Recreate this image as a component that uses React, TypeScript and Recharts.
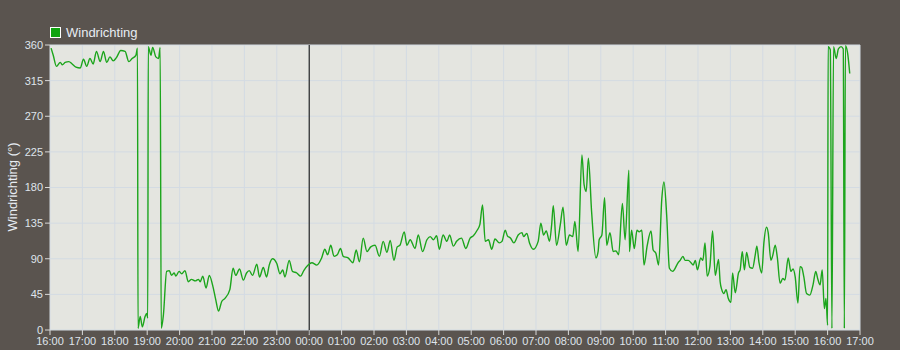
import { LineChart, Line, XAxis, YAxis, CartesianGrid, ReferenceLine } from 'recharts';

// minutes after 16:00 (first day) and wind direction in degrees
const minutes = [
  2, 6, 12, 19, 23, 28, 35, 41, 48, 56, 62, 68, 74, 80, 86, 93, 99, 105, 111, 117,
  123, 131, 139, 146, 152, 159, 162, 163, 167, 171, 176, 179, 181, 182, 187, 190, 196, 201, 204, 206,
  210, 216, 221, 225, 230, 233, 239, 244, 250, 256, 262, 269, 275, 278, 283, 289, 295, 301, 307, 312,
  318, 324, 333, 339, 344, 351, 358, 364, 369, 375, 383, 388, 395, 401, 406, 412, 420, 426, 431, 435,
  443, 449, 457, 464, 470, 478, 485, 494, 503, 509, 514, 520, 526, 532, 538, 543, 552, 561, 567, 573,
  580, 587, 594, 602, 610, 617, 624, 630, 637, 643, 648, 656, 661, 667, 676, 682, 690, 698, 704, 710,
  716, 721, 728, 735, 740, 747, 753, 762, 770, 778, 784, 791, 796, 801, 806, 812, 818, 824, 832, 837,
  843, 847, 853, 859, 867, 874, 877, 883, 888, 895, 904, 909, 914, 919, 925, 929, 932, 938, 945, 950,
  956, 962, 968, 972, 978, 985, 989, 993, 997, 1003, 1011, 1015, 1017, 1022, 1027, 1031, 1037, 1043, 1048, 1053,
  1060, 1065, 1072, 1073, 1077, 1082, 1087, 1091, 1096, 1100, 1106, 1113, 1117, 1122, 1127, 1133, 1137, 1142, 1147, 1153,
  1164, 1167, 1172, 1176, 1182, 1187, 1191, 1195, 1199, 1205, 1209, 1213, 1217, 1222, 1227, 1232, 1238, 1241, 1244, 1248,
  1252, 1256, 1261, 1264, 1269, 1275, 1278, 1282, 1286, 1290, 1296, 1301, 1306, 1309, 1313, 1318, 1322, 1327, 1330, 1335,
  1338, 1343, 1347, 1352, 1357, 1361, 1367, 1372, 1376, 1380, 1385, 1389, 1392, 1396, 1401, 1407, 1413, 1418, 1422, 1426,
  1430, 1434, 1437, 1440, 1441, 1445, 1448, 1451, 1456, 1460, 1465, 1469, 1471, 1473, 1477, 1481,
];

const windDir = [
  356, 347, 333, 338, 335, 338, 339, 336, 332, 331, 342, 333, 343, 336, 352, 339, 352, 338, 345, 340,
  344, 353, 352, 339, 343, 347, 356, 2, 17, 4, 17, 21, 15, 358, 347, 357, 345, 343, 357, 2,
  19, 74, 75, 69, 72, 68, 74, 71, 75, 61, 64, 62, 64, 61, 68, 53, 69, 57, 38, 24,
  36, 40, 51, 78, 69, 77, 63, 72, 75, 69, 83, 67, 79, 67, 82, 90, 84, 71, 76, 67,
  88, 74, 72, 68, 75, 82, 85, 82, 91, 102, 95, 107, 93, 95, 103, 93, 91, 85, 101, 86,
  116, 99, 105, 107, 93, 112, 98, 113, 88, 105, 107, 124, 107, 114, 103, 120, 99, 114, 118, 114,
  119, 102, 120, 112, 120, 106, 112, 116, 103, 116, 119, 126, 133, 158, 112, 114, 102, 115, 110, 112,
  126, 119, 116, 110, 120, 123, 118, 122, 110, 102, 112, 135, 120, 125, 112, 133, 157, 107, 133, 155,
  107, 120, 118, 137, 99, 221, 184, 175, 217, 149, 91, 99, 114, 120, 167, 107, 123, 99, 100, 95,
  160, 114, 202, 99, 126, 103, 126, 124, 126, 82, 107, 125, 101, 97, 82, 166, 187, 145, 78, 74,
  86, 88, 93, 88, 88, 85, 82, 88, 76, 91, 88, 110, 68, 80, 125, 69, 89, 61, 51, 46,
  51, 40, 35, 72, 47, 72, 76, 99, 76, 98, 79, 78, 95, 106, 85, 72, 110, 130, 123, 88,
  93, 107, 91, 59, 65, 63, 91, 74, 77, 67, 34, 80, 79, 67, 46, 44, 57, 74, 64, 57,
  76, 27, 40, 6, 358, 354, 2, 358, 343, 355, 358, 355, 2, 359, 350, 324,
];

const hourTicks = [
  0, 60, 120, 180, 240, 300, 360, 420, 480, 540, 600, 660, 720,
  780, 840, 900, 960, 1020, 1080, 1140, 1200, 1260, 1320, 1380, 1440, 1500,
];
const degreeTicks = [0, 45, 90, 135, 180, 225, 270, 315, 360];
const compassLabels = ['N', 'NO', 'O', 'ZO', 'Z', 'ZW', 'W', 'NW', 'N'];

const data = minutes.map((m, i) => ({ t: m, dir: windDir[i] }));

const fontFamily = '"Liberation Sans", Arial, sans-serif';
const tickStyle = { fill: '#dfe4ec', fontSize: 11, fontFamily };
const tickLine = { stroke: '#d9d9d9' };

const formatHour = (m: number) => {
  const h = (16 + Math.round(m / 60)) % 24;
  return `${String(h).padStart(2, '0')}:00`;
};

const formatCompass = (v: number) => compassLabels[degreeTicks.indexOf(v)] ?? '';

export default function App() {
  return (
    <div style={{ position: 'relative', width: 900, height: 350, background: '#5a544f' }}>
      <style>{'body{margin:0}'}</style>

      {/* legend */}
      <div
        style={{
          position: 'absolute', left: 50, top: 25, display: 'flex', alignItems: 'center',
          fontFamily, fontSize: 13, color: '#e8edf3',
        }}
      >
        <span
          style={{
            display: 'inline-block', width: 9, height: 9, background: '#0fa30f',
            border: '1px solid #ffffff', marginRight: 5,
          }}
        />
        Windrichting
      </div>

      <LineChart width={900} height={350} data={data} margin={{ top: 45, right: 0, bottom: 0, left: 0 }}>
        <CartesianGrid yAxisId="left" stroke="#d3dbe3" fill="#e4e5e0" />
        <XAxis
          dataKey="t"
          type="number"
          domain={[0, 1500]}
          ticks={hourTicks}
          tickFormatter={formatHour}
          interval={0}
          height={20}
          tick={tickStyle}
          tickLine={tickLine}
          tickSize={5}
          axisLine={false}
        />
        <YAxis
          yAxisId="left"
          domain={[0, 360]}
          ticks={degreeTicks}
          width={50}
          tick={tickStyle}
          tickLine={tickLine}
          tickSize={5}
          axisLine={false}
          interval={0}
          label={() => (
            <text
              x={17}
              y={187}
              transform="rotate(-90 17 187)"
              textAnchor="middle"
              fill="#e8edf3"
              fontSize={13}
              fontFamily={fontFamily}
            >
              Windrichting (°)
            </text>
          )}
        />
        <YAxis
          yAxisId="right"
          orientation="right"
          domain={[0, 360]}
          ticks={degreeTicks}
          tickFormatter={formatCompass}
          width={40}
          tick={tickStyle}
          tickLine={tickLine}
          tickSize={5}
          axisLine={false}
          interval={0}
        />
        {/* midnight marker, reaching down over the tick */}
        <ReferenceLine
          yAxisId="left"
          segment={[{ x: 480, y: -5 }, { x: 480, y: 360 }]}
          ifOverflow="visible"
          stroke="#000000"
          strokeWidth={1}
        />
        <Line
          yAxisId="left"
          type="monotone"
          dataKey="dir"
          stroke="#1ca51c"
          strokeWidth={1.4}
          dot={false}
          isAnimationActive={false}
        />
      </LineChart>
    </div>
  );
}
